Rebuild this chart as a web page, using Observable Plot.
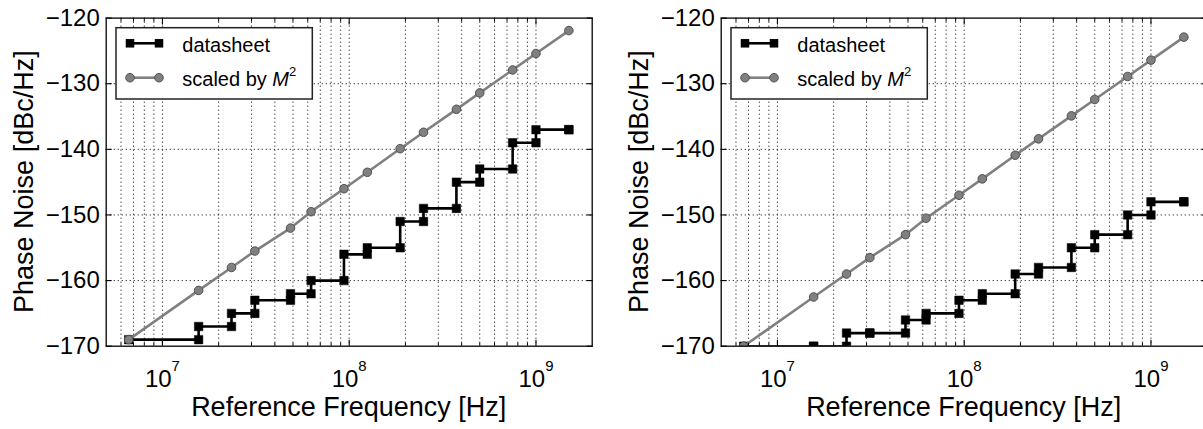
<!DOCTYPE html>
<html>
<head>
<meta charset="utf-8">
<script src="https://cdn.jsdelivr.net/npm/d3@7"></script>
<script src="https://cdn.jsdelivr.net/npm/@observablehq/plot@0.6"></script>
<style>
  html, body { margin: 0; padding: 0; background: #fff; }
  #wrap { position: relative; width: 1203px; height: 429px; overflow: hidden; background: #fff; }
  .panel { position: absolute; top: 0; width: 600px; height: 429px; }
  .panel svg { max-width: none !important; width: 600px; height: 429px; display: block; }
</style>
</head>
<body>
<div id="wrap"></div>
<script>
// ---- data ----
const freq = [6.6e6, 15.625e6, 23.4375e6, 31.25e6, 48.5e6, 62.5e6, 93.75e6, 125e6, 187.5e6, 250e6, 375e6, 500e6, 750e6, 1000e6, 1500e6];

const leftDatasheet  = [-169, -167, -165, -163, -162, -160, -156, -155, -151, -149, -145, -143, -139, -137, -137];
const leftScaled     = [-169, -161.5, -158, -155.5, -152, -149.5, -146, -143.5, -139.9, -137.4, -133.9, -131.4, -127.9, -125.4, -121.9];

const rightDatasheet = [-170, -170, -168, -168, -166, -165, -163, -162, -159, -158, -155, -153, -150, -148, -148];
const rightScaled    = [-170, -162.5, -159, -156.5, -153, -150.5, -147, -144.5, -140.9, -138.4, -134.9, -132.4, -128.9, -126.4, -122.9];

const yTicks = [-170, -160, -150, -140, -130, -120];
const yTickLabels = ["−170", "−160", "−150", "−140", "−130", "−120"];
const xMajor = [1e7, 1e8, 1e9];
const xTickExponents = ["7", "8", "9"];
const xDomain = [5e6, 2e9];
const yDomain = [-170, -120];

const seriesNames = ["datasheet", "scaled by "];

const FONT = "'Liberation Sans', Arial, Helvetica, sans-serif";
const xMinor = d3.scaleLog().domain(xDomain).ticks().filter(v => v > xDomain[0] && v < xDomain[1]);

function makeChart(ds, sc) {
  const dsPts = freq.map((f, i) => ({f, v: ds[i]}));
  const dsMarks = dsPts.concat(freq.slice(1).map((f, i) => ({f, v: ds[i]})));
  const scPts = freq.map((f, i) => ({f, v: sc[i]}));

  const W = 600, H = 429, mL = 105.7, mR = 8.3, mT = 17.6, mB = 83.3;
  const gridStyle = {stroke: "#111", strokeOpacity: 0.9, strokeWidth: 1, strokeDasharray: "1.2,2.8"};

  const chart = Plot.plot({
    width: W, height: H,
    marginLeft: mL, marginRight: mR, marginTop: mT, marginBottom: mB,
    x: {type: "log", domain: xDomain},
    y: {domain: yDomain},
    style: {fontFamily: FONT, fontSize: "24px", color: "black", background: "white", overflow: "visible"},
    marks: [
      Plot.gridX(xMinor, gridStyle),
      Plot.gridY(yTicks.slice(1, -1), gridStyle),
      Plot.line(dsPts, {x: "f", y: "v", curve: "step-after", stroke: "black", strokeWidth: 2.6, clip: true}),
      Plot.dot(dsMarks, {x: "f", y: "v", symbol: "square", r: 4.8, fill: "black", stroke: "black", strokeWidth: 0.5, clip: true}),
      Plot.line(scPts, {x: "f", y: "v", stroke: "#808080", strokeWidth: 2.6, clip: true}),
      Plot.dot(scPts, {x: "f", y: "v", r: 4.3, fill: "#808080", stroke: "#474747", strokeWidth: 0.9, clip: true}),
      Plot.axisX(xMajor, {anchor: "bottom", tickSize: -6, tickPadding: 30, strokeWidth: 1.1,
        tickFormat: d => "10^" + xTickExponents[xMajor.indexOf(d)], label: null}),
      Plot.axisX(xMinor.filter(v => !xMajor.includes(v)), {anchor: "bottom", tickSize: -3, strokeWidth: 1, tickFormat: () => "", label: null}),
      Plot.axisX(xMajor, {anchor: "top", tickSize: -6, strokeWidth: 1.1, tickFormat: () => "", label: null}),
      Plot.axisX(xMinor.filter(v => !xMajor.includes(v)), {anchor: "top", tickSize: -3, strokeWidth: 1, tickFormat: () => "", label: null}),
      Plot.axisY(yTicks, {anchor: "left", tickSize: -6, tickPadding: 12.4, strokeWidth: 1.1,
        tickFormat: d => yTickLabels[yTicks.indexOf(d)], label: null}),
      Plot.axisY(yTicks, {anchor: "right", tickSize: -6, strokeWidth: 1.1, tickFormat: () => "", label: null}),
      Plot.frame({stroke: "black", strokeWidth: 1.3})
    ]
  });

  const svg = d3.select(chart);

  // superscript exponents on x tick labels
  svg.selectAll('g[aria-label="x-axis tick label"] text').each(function () {
    const t = this.textContent;
    if (!t.includes("^")) return;
    const [base, exp] = t.split("^");
    const el = d3.select(this);
    el.text(base);
    el.append("tspan").attr("dy", "-16").attr("font-size", "15px").text(exp);
  });

  // axis labels
  svg.append("text")
    .attr("transform", `translate(33,${(mT + H - mB) / 2}) rotate(-90)`)
    .attr("text-anchor", "middle")
    .attr("font-family", FONT).attr("font-size", 27).attr("fill", "black")
    .text("Phase Noise [dBc/Hz]");
  svg.append("text")
    .attr("x", (mL + W - mR) / 2).attr("y", 416)
    .attr("text-anchor", "middle")
    .attr("font-family", FONT).attr("font-size", 27).attr("fill", "black")
    .text("Reference Frequency [Hz]");

  // legend
  const lg = svg.append("g").attr("text-anchor", "start");
  lg.append("rect").attr("x", 116).attr("y", 27.7).attr("width", 196.3).attr("height", 71.3)
    .attr("fill", "white").attr("stroke", "#222").attr("stroke-width", 1.5);
  const row1 = 43.3, row2 = 77.7, xa = 130, xb = 159;
  lg.append("line").attr("x1", xa).attr("x2", xb).attr("y1", row1).attr("y2", row1)
    .attr("stroke", "black").attr("stroke-width", 2.6);
  [xa, xb].forEach(x => lg.append("rect").attr("x", x - 4.25).attr("y", row1 - 4.25)
    .attr("width", 8.5).attr("height", 8.5).attr("fill", "black"));
  lg.append("line").attr("x1", xa).attr("x2", xb).attr("y1", row2).attr("y2", row2)
    .attr("stroke", "#808080").attr("stroke-width", 2.6);
  [xa, xb].forEach(x => lg.append("circle").attr("cx", x).attr("cy", row2).attr("r", 4.3)
    .attr("fill", "#808080").attr("stroke", "#474747").attr("stroke-width", 0.9));
  lg.append("text").attr("x", 182.3).attr("y", 51.5).attr("text-anchor", "start")
    .attr("font-family", FONT).attr("font-size", 20).attr("fill", "black").text(seriesNames[0]);
  const t2 = lg.append("text").attr("x", 182.3).attr("y", 85.5).attr("text-anchor", "start")
    .attr("font-family", FONT).attr("font-size", 20).attr("fill", "black");
  t2.append("tspan").text(seriesNames[1]);
  t2.append("tspan").attr("font-style", "italic").text("M");
  t2.append("tspan").attr("dy", "-10").attr("font-size", "13px").text("2");

  return chart;
}

const wrap = document.getElementById("wrap");
const p1 = document.createElement("div"); p1.className = "panel"; p1.style.left = "0px";
p1.appendChild(makeChart(leftDatasheet, leftScaled));
const p2 = document.createElement("div"); p2.className = "panel"; p2.style.left = "615px";
p2.appendChild(makeChart(rightDatasheet, rightScaled));
wrap.appendChild(p1);
wrap.appendChild(p2);
</script>
</body>
</html>
